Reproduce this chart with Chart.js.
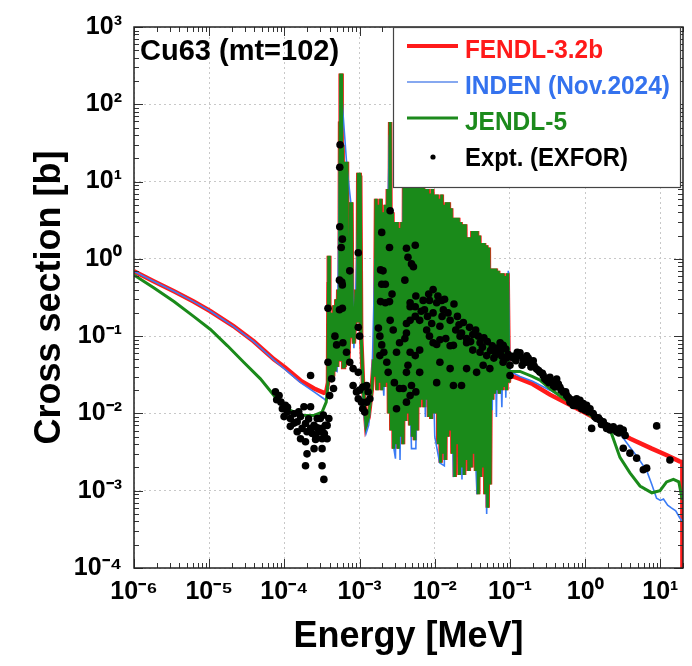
<!DOCTYPE html>
<html>
<head>
<meta charset="utf-8">
<title>Cu63 (mt=102)</title>
<script src="https://cdn.jsdelivr.net/npm/chart.js@4.4.1/dist/chart.umd.min.js"></script>
<style>
  html, body { margin: 0; padding: 0; background: #fff; }
  #wrap { width: 692px; height: 666px; }
</style>
</head>
<body>
<div id="wrap"><canvas id="xsChart" width="692" height="666"></canvas></div>
<script>
// ---- data: [energy MeV, cross section b] ----
const fendlLow = [
  [1e-6, 0.69], [1.85e-6, 0.51], [3.4e-6, 0.38], [6.2e-6, 0.28], [1.04e-5, 0.21],
  [2.1e-5, 0.135], [3.9e-5, 0.086], [7.3e-5, 0.05], [1.03e-4, 0.039], [1.64e-4, 0.0266],
  [2.48e-4, 0.021], [3.35e-4, 0.0185], [3.6e-4, 0.019]
];
const indenLow = [
  [1e-6, 0.69], [1.85e-6, 0.51], [3.4e-6, 0.38], [6.2e-6, 0.28], [1.04e-5, 0.21],
  [2.1e-5, 0.134], [3.9e-5, 0.085], [7.3e-5, 0.049], [1.03e-4, 0.037], [1.64e-4, 0.025],
  [2.48e-4, 0.019], [3.35e-4, 0.0155], [3.6e-4, 0.0145]
];
const jendlLow = [
  [1e-6, 0.62], [1.85e-6, 0.42], [3.4e-6, 0.28], [6.2e-6, 0.18], [1.04e-5, 0.122],
  [1.75e-5, 0.075], [2.9e-5, 0.0456], [4.8e-5, 0.028], [7.3e-5, 0.017], [1.09e-4, 0.0115],
  [1.64e-4, 0.0095], [2.48e-4, 0.0094], [3.17e-4, 0.0104], [3.6e-4, 0.014]
];

// resolved resonance region (FENDL and JENDL-5 coincide at this scale)
const resonances = [
  [3.8e-4, 0.025], [3.86e-4, 0.5], [3.88e-4, 1.1], [3.9e-4, 0.06], [3.92e-4, 1.1], [3.96e-4, 0.05],
  [4.1e-4, 0.03], [4.3e-4, 0.2], [4.45e-4, 0.03], [4.6e-4, 0.25], [4.75e-4, 0.035], [4.9e-4, 0.3],
  [5.05e-4, 0.04], [5.2e-4, 0.4], [5.35e-4, 0.05], [5.45e-4, 2], [5.5e-4, 60], [5.55e-4, 0.05],
  [5.6e-4, 250], [5.65e-4, 0.5], [5.7e-4, 250], [5.75e-4, 0.06], [5.8e-4, 40], [5.85e-4, 0.05],
  [5.95e-4, 30], [6.05e-4, 0.04], [6.2e-4, 18], [6.35e-4, 0.04], [6.5e-4, 18], [6.65e-4, 0.05],
  [6.8e-4, 18], [6.9e-4, 0.5], [7.1e-4, 0.05], [7.4e-4, 0.3], [7.6e-4, 5.4], [7.7e-4, 0.1],
  [7.8e-4, 5.4], [7.95e-4, 0.3], [8.4e-4, 0.08], [9.0e-4, 0.4], [9.4e-4, 0.15], [9.6e-4, 13],
  [9.75e-4, 0.2], [9.9e-4, 13], [1.005e-3, 0.15], [1.02e-3, 12], [1.05e-3, 0.1], [1.12e-3, 0.02],
  [1.22e-3, 0.007], [1.32e-3, 0.009], [1.45e-3, 0.02],
  // dense unresolved-looking band, 1.5 keV - 100 keV
  [1.540e-3, 0.05], [1.597e-3, 0.03], [1.656e-3, 6], [1.717e-3, 0.02], [1.778e-3, 5], [1.844e-3, 0.025],
  [1.911e-3, 6], [1.981e-3, 0.02], [2.054e-3, 4], [2.130e-3, 0.022], [2.207e-3, 5], [2.289e-3, 0.025],
  [2.371e-3, 8], [2.459e-3, 0.01], [2.548e-3, 59], [2.642e-3, 0.006], [2.738e-3, 4], [2.839e-3, 0.0035],
  [2.943e-3, 3], [3.051e-3, 0.004], [3.162e-3, 3], [3.278e-3, 0.0035], [3.398e-3, 2.5], [3.523e-3, 0.005],
  [3.652e-3, 3], [3.786e-3, 0.004], [3.924e-3, 40], [4.068e-3, 0.008], [4.217e-3, 30], [4.372e-3, 0.01],
  [4.532e-3, 50], [4.699e-3, 0.007], [4.870e-3, 30], [5.049e-3, 0.005], [5.233e-3, 40], [5.425e-3, 0.0045],
  [5.623e-3, 25], [5.830e-3, 0.006], [6.043e-3, 40], [6.265e-3, 0.012], [6.494e-3, 20], [6.733e-3, 0.015],
  [6.978e-3, 20], [7.235e-3, 0.012], [7.499e-3, 8], [7.775e-3, 0.015], [8.058e-3, 8], [8.354e-3, 0.009],
  [8.660e-3, 7], [8.978e-3, 0.0085], [9.306e-3, 8], [9.648e-3, 0.01],
  [1.000e-2, 6.8], [1.037e-2, 0.01], [1.075e-2, 6.8], [1.114e-2, 0.004], [1.155e-2, 6], [1.197e-2, 0.0023],
  [1.241e-2, 6.8], [1.287e-2, 0.003], [1.334e-2, 5], [1.383e-2, 0.0025], [1.433e-2, 5.4], [1.486e-2, 0.005],
  [1.540e-2, 5.4], [1.597e-2, 0.006], [1.656e-2, 4.5], [1.717e-2, 0.003], [1.778e-2, 3.4], [1.844e-2, 0.0015],
  [1.911e-2, 3.4], [1.981e-2, 0.004], [2.054e-2, 3.4], [2.130e-2, 0.0016], [2.207e-2, 3], [2.289e-2, 0.002],
  [2.371e-2, 2.8], [2.459e-2, 0.0016], [2.548e-2, 2.8], [2.642e-2, 0.0025], [2.738e-2, 1.9], [2.839e-2, 0.0018],
  [2.943e-2, 1.9], [3.051e-2, 0.002], [3.162e-2, 2.3], [3.278e-2, 0.003], [3.398e-2, 2.3], [3.523e-2, 0.0018],
  [3.652e-2, 2.3], [3.786e-2, 0.0009], [3.924e-2, 2], [4.068e-2, 0.0015], [4.217e-2, 1.6], [4.372e-2, 0.002],
  [4.532e-2, 1.6], [4.699e-2, 0.0009], [4.870e-2, 1.5], [5.049e-2, 0.0006], [5.233e-2, 1.4], [5.425e-2, 0.0012],
  [5.623e-2, 0.75], [5.830e-2, 0.015], [6.043e-2, 0.75], [6.265e-2, 0.018], [6.494e-2, 0.75], [6.733e-2, 0.02],
  [6.978e-2, 0.7], [7.235e-2, 0.018], [7.499e-2, 0.65], [7.775e-2, 0.02], [8.058e-2, 0.65], [8.354e-2, 0.022],
  [8.660e-2, 0.6], [8.978e-2, 0.02], [9.306e-2, 0.65], [9.648e-2, 0.025], [9.8e-2, 0.03]
];
// INDEN only shows where its valleys dip below the others
const indenRes = [
  [3.8e-4, 0.025], [3.88e-4, 1.0], [3.96e-4, 0.04], [5.0e-4, 0.035], [5.6e-4, 200], [6.8e-4, 15],
  [7.7e-4, 5], [8.4e-4, 0.07], [9.9e-4, 10], [1.05e-3, 0.1], [1.12e-3, 0.012], [1.22e-3, 0.0055],
  [1.32e-3, 0.007], [1.45e-3, 0.02], [1.6e-3, 1], [2.1e-3, 0.017], [2.5e-3, 40], [2.8e-3, 0.004],
  [3.0e-3, 0.0026], [3.2e-3, 2], [3.45e-3, 0.0025], [3.9e-3, 20], [4.9e-3, 0.0035], [5.6e-3, 0.0035],
  [6.5e-3, 20], [7.5e-3, 0.009], [8.5e-3, 5], [1.0e-2, 0.005], [1.16e-2, 0.0023], [1.34e-2, 0.0021],
  [1.45e-2, 3], [1.78e-2, 0.0015], [2.0e-2, 2], [2.3e-2, 0.0014], [2.6e-2, 2], [3.65e-2, 0.0009],
  [4.2e-2, 1.5], [4.9e-2, 0.0005], [5.3e-2, 1], [5.8e-2, 0.011], [6.2e-2, 0.5], [6.6e-2, 0.009],
  [7.0e-2, 0.5], [7.8e-2, 0.012], [8.4e-2, 0.6], [8.8e-2, 0.016], [9.5e-2, 0.7], [9.9e-2, 0.04]
];

const fendlHigh = [
  [0.1, 0.031], [0.136, 0.028], [0.2, 0.024], [0.34, 0.0175], [0.5, 0.0145], [1.0, 0.0102],
  [1.5, 0.0082], [2.6, 0.0059], [4.0, 0.0047], [7.7, 0.0035], [12, 0.0029], [18, 0.0024],
  [19.6, 0.00235], [19.7, 1e-5]
];
const indenHigh = [
  [0.1, 0.035], [0.136, 0.03], [0.2, 0.026], [0.34, 0.02], [0.5, 0.016], [1.0, 0.0105],
  [1.5, 0.0082], [2.2, 0.0065], [2.9, 0.0055], [3.9, 0.0037], [5.0, 0.0027], [6.6, 0.0018],
  [7.7, 0.0012], [8.9, 0.0008], [10, 0.00075], [11, 0.00078], [12.5, 0.00065], [14, 0.0006],
  [16, 0.00055], [18, 0.00045], [19.6, 0.0004]
];
const jendlHigh = [
  [0.1, 0.035], [0.136, 0.035], [0.2, 0.03], [0.25, 0.027], [0.34, 0.021], [0.5, 0.016],
  [1.0, 0.0105], [1.5, 0.008], [2.14, 0.0062], [2.37, 0.0047], [2.9, 0.0027], [3.94, 0.0017],
  [5.36, 0.00115], [7.7, 0.00094], [9.9, 0.001], [12.1, 0.0013], [14.9, 0.0014], [17.6, 0.0013],
  [19.6, 0.00076]
];

const exfor = [
  // below the first resonance
  [7.6e-5, 0.019], [7.9e-5, 0.015], [8.5e-5, 0.017], [9.0e-5, 0.014], [9.4e-5, 0.0115], [9.9e-5, 0.0091],
  [1.03e-4, 0.0127], [1.09e-4, 0.0104], [1.1e-4, 0.012], [1.2e-4, 0.0086], [1.2e-4, 0.0068], [1.34e-4, 0.0099],
  [1.35e-4, 0.0075], [1.48e-4, 0.0078], [1.48e-4, 0.0058], [1.55e-4, 0.0105], [1.64e-4, 0.0091], [1.64e-4, 0.0047],
  [1.72e-4, 0.0064], [1.82e-4, 0.0122], [1.91e-4, 0.0074], [1.91e-4, 0.0043], [1.91e-4, 0.0021], [2.0e-4, 0.0058],
  [2.0e-4, 0.003], [2.1e-4, 0.0085], [2.23e-4, 0.0064], [2.23e-4, 0.0122], [2.23e-4, 0.031], [2.35e-4, 0.0055],
  [2.48e-4, 0.007], [2.48e-4, 0.0035], [2.6e-4, 0.0052], [2.6e-4, 0.0046], [2.73e-4, 0.0086], [2.75e-4, 0.0065],
  [2.88e-4, 0.0058], [3.0e-4, 0.0086], [3.17e-4, 0.0064], [3.17e-4, 0.0047], [3.17e-4, 0.0035], [3.17e-4, 0.0021],
  [3.3e-4, 0.0095], [3.35e-4, 0.0014], [3.4e-4, 0.0055], [3.5e-4, 0.007], [3.7e-4, 0.0047], [3.7e-4, 0.007],
  [3.9e-4, 0.0086],
  // resonance region
  [5.5e-4, 30], [5.45e-4, 15.3], [5.45e-4, 2.6], [5.9e-4, 1.8], [5.7e-4, 1.4], [9.6e-4, 1.2], [7.4e-4, 0.7],
  [5.4e-4, 0.53], [5.8e-4, 0.5], [5.9e-4, 0.46], [3.8e-4, 0.23], [5.4e-4, 0.22], [5.9e-4, 0.23],
  [1.97e-3, 2.2], [2.55e-3, 4.2], [2.5e-3, 1.4], [1.9e-3, 0.72], [2.05e-3, 0.7], [1.97e-3, 0.47], [2.2e-3, 0.47],
  [1.9e-3, 0.28], [2.2e-3, 0.27], [2.5e-3, 0.28], [2.7e-3, 0.35], [4.2e-3, 1.37], [5.5e-3, 1.5], [4.4e-3, 1.05],
  [4.9e-3, 0.86], [5.2e-3, 0.79], [4.0e-3, 0.53], [4.7e-3, 0.27], [5.5e-3, 0.18],
  [4.7e-4, 0.1], [4.95e-4, 0.077], [3.8e-4, 0.046], [4.25e-4, 0.028], [4.5e-4, 0.021], [4.0e-4, 0.017],
  [6.0e-4, 0.082], [6.7e-4, 0.062], [7.4e-4, 0.046], [8.2e-4, 0.038], [9.6e-4, 0.034], [9.6e-4, 0.13],
  [1.0e-3, 0.1], [8.2e-4, 0.023], [9.1e-4, 0.019], [1.0e-3, 0.02], [1.1e-3, 0.022], [1.24e-3, 0.023],
  [1.3e-3, 0.019], [1.37e-3, 0.0155], [1.24e-3, 0.014], [1.1e-3, 0.0115], [1.06e-3, 0.014], [1.17e-3, 0.0104],
  [9.6e-4, 0.0155], [1.78e-3, 0.127], [1.86e-3, 0.1], [1.97e-3, 0.077], [1.86e-3, 0.056], [2.1e-3, 0.062],
  [2.3e-3, 0.046], [2.55e-3, 0.16], [2.8e-3, 0.12], [3.4e-3, 0.082], [3.1e-3, 0.062], [4.2e-3, 0.146],
  [4.7e-3, 0.24], [5.5e-3, 0.056], [4.4e-3, 0.042], [4.9e-3, 0.023], [2.4e-3, 0.034], [2.9e-3, 0.025],
  [3.4e-3, 0.021], [4.2e-3, 0.014], [3.1e-3, 0.0115], [4.7e-3, 0.017],
  // broad bump up to 100 keV
  [9.5e-3, 0.40], [8.3e-3, 0.35], [7.0e-3, 0.29], [5.6e-3, 0.33], [5.5e-3, 0.24], [8.5e-3, 0.29],
  [1.06e-2, 0.27], [1.24e-2, 0.29], [7.3e-3, 0.22], [9.5e-3, 0.2], [1.3e-2, 0.22], [6.3e-3, 0.16],
  [9.1e-3, 0.146], [1.17e-2, 0.134], [1.6e-2, 0.16], [1.9e-2, 0.12], [1.4e-2, 0.093], [2.27e-2, 0.11],
  [2.65e-2, 0.093], [3.2e-2, 0.105], [4.0e-2, 0.082], [1.77e-2, 0.076], [1.06e-2, 0.078], [4.2e-3, 0.11],
  [4.7e-3, 0.16], [4.0e-3, 0.093], [7.4e-2, 0.082], [8.1e-2, 0.076], [6.1e-2, 0.066], [8.5e-3, 0.1],
  [9.5e-3, 0.082], [1.17e-2, 0.09], [1.6e-2, 0.075], [2.17e-2, 0.1], [2.65e-2, 0.082], [3.2e-2, 0.066],
  [4.0e-2, 0.062], [4.9e-2, 0.056], [6.1e-2, 0.052], [7.4e-2, 0.062], [8.1e-2, 0.046], [0.1, 0.042],
  [0.11, 0.052], [0.135, 0.056], [0.165, 0.046], [4.7e-3, 0.062], [6.3e-3, 0.066], [4.2e-3, 0.034],
  [3.8e-3, 0.021], [5.6e-3, 0.019], [6.3e-3, 0.034], [1.06e-2, 0.025], [1.17e-2, 0.046], [1.6e-2, 0.038],
  [1.77e-2, 0.023], [2.27e-2, 0.023], [2.65e-2, 0.038], [3.6e-2, 0.034], [4.4e-2, 0.042], [5.4e-2, 0.038],
  [8.1e-2, 0.075], [0.1, 0.031], [1.5e-2, 0.2], [2.0e-2, 0.18], [1.8e-2, 0.26], [2.4e-2, 0.15],
  [2.9e-2, 0.13], [3.5e-2, 0.12], [4.5e-2, 0.095], [5.0e-2, 0.085], [5.8e-2, 0.075], [6.8e-2, 0.07],
  [8.8e-2, 0.068], [9.5e-2, 0.058], [1.1e-2, 0.33], [1.35e-2, 0.3], [8e-3, 0.18], [7.8e-3, 0.12],
  [6.6e-3, 0.21], [1.25e-2, 0.18], [2.1e-2, 0.14], [3.0e-2, 0.085], [3.8e-2, 0.1], [4.3e-2, 0.072],
  [5.5e-2, 0.065], [6.5e-2, 0.058], [7.8e-2, 0.055], [9.0e-2, 0.052],
  // fast region
  [0.136, 0.061], [0.150, 0.050], [0.167, 0.0555], [0.185, 0.0456], [0.204, 0.048], [0.226, 0.0375],
  [0.251, 0.034], [0.277, 0.0308], [0.307, 0.0266], [0.340, 0.0293], [0.377, 0.023], [0.418, 0.0279],
  [0.462, 0.0218], [0.512, 0.0188], [0.567, 0.0171], [0.628, 0.014], [0.695, 0.0127], [0.770, 0.0155],
  [0.853, 0.0148], [0.944, 0.0134], [1.046, 0.0127], [1.16, 0.0115], [1.28, 0.00995], [1.42, 0.0086],
  [1.57, 0.0082], [1.74, 0.0078], [1.93, 0.0064], [2.14, 0.0061], [2.37, 0.0067], [2.62, 0.0058],
  [2.90, 0.0064], [3.21, 0.0061], [1.22, 0.0064], [3.21, 0.00355], [3.94, 0.00306], [4.84, 0.00264],
  [5.93, 0.00187], [6.57, 0.00196], [8.93, 0.0069], [13.4, 0.0025],
  [0.11, 0.055], [0.12, 0.048], [0.125, 0.062], [0.145, 0.042], [0.16, 0.05], [0.175, 0.052],
  [0.19, 0.04], [0.21, 0.041], [0.24, 0.036], [0.27, 0.033], [0.29, 0.028], [0.33, 0.025],
  [0.36, 0.026], [0.4, 0.022], [0.44, 0.024], [0.48, 0.02], [0.55, 0.019], [0.6, 0.016],
  [0.66, 0.015], [0.73, 0.013], [0.8, 0.0125], [0.9, 0.0115], [1.0, 0.011], [1.1, 0.0105],
  [1.35, 0.009], [1.5, 0.0088], [1.65, 0.0072], [1.85, 0.007], [2.0, 0.0068], [2.5, 0.0062],
  [2.8, 0.0056], [3.4, 0.0052]
];

// axis decades
const xDecades = [1e-6, 1e-5, 1e-4, 1e-3, 1e-2, 1e-1, 1, 10];
const yDecades = [1e-4, 1e-3, 1e-2, 1e-1, 1, 10, 100, 1000];

const FONT = '"Liberation Sans", Arial, Helvetica, sans-serif';
Chart.defaults.font.family = FONT;
Chart.defaults.color = '#000';

const toXY = arr => arr.map(p => ({x: p[0], y: p[1]}));
const isDecade = v => Math.abs(Math.log10(v) - Math.round(Math.log10(v))) < 1e-6;
const sup = {'-': '\u207B', '0': '\u2070', '1': '\u00B9', '2': '\u00B2', '3': '\u00B3',
             '4': '\u2074', '5': '\u2075', '6': '\u2076', '7': '\u2077', '8': '\u2078', '9': '\u2079'};
const powLabel = v => '10' + String(Math.round(Math.log10(v))).split('').map(c => sup[c]).join('');

// decades plus 2..9 minor marks
function withMinors(decades, max) {
  const out = [];
  decades.forEach(d => {
    for (let m = 1; m <= 9; m++) {
      const v = d * m;
      if (v <= max * 1.0001) out.push(v);
    }
  });
  return out;
}

const legendStyle = [
  {text: '#ff1a1a', line: '#ff1a1a', width: 4},
  {text: '#3472ee', line: '#86a8f0', width: 2},
  {text: '#1c8a1c', line: '#1c8a1c', width: 3},
  {text: '#000000', dot: true}
];
const legendTextWidth = [138, 205, 102, 163];

const overlay = {
  id: 'overlay',
  afterDraw(chart) {
    const ctx = chart.ctx;
    const {left, top, right, bottom} = chart.chartArea;
    const xs = chart.scales.x, ys = chart.scales.y;
    ctx.save();

    // inward tick marks on all four sides
    ctx.strokeStyle = '#333';
    ctx.lineWidth = 1;
    ctx.beginPath();
    xs.ticks.forEach(t => {
      const px = Math.round(xs.getPixelForValue(t.value)) + 0.5;
      const len = isDecade(t.value) ? 9 : 5;
      ctx.moveTo(px, bottom); ctx.lineTo(px, bottom - len);
      ctx.moveTo(px, top); ctx.lineTo(px, top + len);
    });
    ys.ticks.forEach(t => {
      const py = Math.round(ys.getPixelForValue(t.value)) + 0.5;
      const len = isDecade(t.value) ? 9 : 5;
      ctx.moveTo(left, py); ctx.lineTo(left + len, py);
      ctx.moveTo(right, py); ctx.lineTo(right - len, py);
    });
    ctx.stroke();

    // frame
    ctx.lineWidth = 1.5;
    ctx.strokeStyle = '#222';
    ctx.strokeRect(left, top, right - left, bottom - top);

    // nuclide label
    ctx.fillStyle = '#000';
    ctx.font = 'bold 29px ' + FONT;
    ctx.textAlign = 'left';
    ctx.textBaseline = 'alphabetic';
    ctx.fillText('Cu63 (mt=102)', 140, 60, 210);

    // legend box
    const bx = 393, by = top, bw = 287, bh = 160;
    ctx.fillStyle = '#fff';
    ctx.fillRect(bx, by, bw, bh);
    ctx.lineWidth = 1.2;
    ctx.strokeStyle = '#444';
    ctx.strokeRect(bx + 0.5, by + 0.5, bw, bh);

    ctx.font = 'bold 25px ' + FONT;
    ctx.textBaseline = 'middle';
    chart.data.datasets.forEach((ds, i) => {
      const st = legendStyle[i];
      const rowY = 51 + i * 36;
      if (st.dot) {
        ctx.fillStyle = '#000';
        ctx.beginPath();
        ctx.arc(433, rowY - 2, 2.6, 0, Math.PI * 2);
        ctx.fill();
      } else {
        ctx.strokeStyle = st.line;
        ctx.lineWidth = st.width;
        ctx.beginPath();
        ctx.moveTo(407, rowY - 5);
        ctx.lineTo(458, rowY - 5);
        ctx.stroke();
      }
      ctx.fillStyle = st.text;
      ctx.fillText(ds.label, 465, rowY, legendTextWidth[i]);
    });
    ctx.restore();
  }
};

const ctx = document.getElementById('xsChart').getContext('2d');
window.xsChart = new Chart(ctx, {
  type: 'scatter',
  data: {
    datasets: [
      {
        label: 'FENDL-3.2b',
        data: toXY(fendlLow.concat(resonances, fendlHigh)),
        showLine: true, pointRadius: 0, borderColor: '#ff1a1a', borderWidth: 4.5,
        order: 4, clip: 0
      },
      {
        label: 'INDEN (Nov.2024)',
        data: toXY(indenLow.concat(indenRes, indenHigh)),
        showLine: true, pointRadius: 0, borderColor: '#3b7cf5', borderWidth: 1.6,
        order: 3, clip: 0
      },
      {
        label: 'JENDL-5',
        data: toXY(jendlLow.concat(resonances, jendlHigh)),
        showLine: true, pointRadius: 0, borderColor: '#1a8a1a', borderWidth: 3,
        order: 2, clip: 0
      },
      {
        label: 'Expt. (EXFOR)',
        data: toXY(exfor),
        showLine: false, pointRadius: 3.8, pointBackgroundColor: '#000',
        pointBorderWidth: 0, borderColor: '#000', order: 1, clip: 0
      }
    ]
  },
  options: {
    responsive: false,
    animation: false,
    events: [],
    layout: { padding: { left: 0, right: 9, top: 21, bottom: 0 } },
    plugins: { legend: { display: false }, tooltip: { enabled: false } },
    scales: {
      x: {
        type: 'logarithmic',
        min: 1e-6,
        max: 20,
        afterBuildTicks: s => { s.ticks = withMinors(xDecades, 20).map(v => ({value: v})); },
        afterFit: s => { s.height = 98; },
        ticks: {
          autoSkip: false, maxRotation: 0, padding: 9,
          font: { size: 25, weight: 'bold' }, color: '#000',
          callback: v => isDecade(v) ? powLabel(v) : ''
        },
        grid: {
          drawTicks: false,
          color: c => (c.tick && isDecade(c.tick.value)) ? '#c8c8c8' : 'rgba(0,0,0,0)'
        },
        border: { display: false, dash: [2, 3] },
        title: {
          display: true, text: 'Energy [MeV]', color: '#000',
          font: { size: 36, weight: 'bold' }, padding: { top: 0, bottom: 7 }
        }
      },
      y: {
        type: 'logarithmic',
        min: 1e-4,
        max: 1e3,
        afterBuildTicks: s => { s.ticks = withMinors(yDecades, 1e3).map(v => ({value: v})); },
        afterFit: s => { s.width = 134; },
        ticks: {
          autoSkip: false, padding: 12,
          font: { size: 25, weight: 'bold' }, color: '#000',
          callback: v => isDecade(v) ? powLabel(v) : ''
        },
        grid: {
          drawTicks: false,
          color: c => (c.tick && isDecade(c.tick.value)) ? '#c8c8c8' : 'rgba(0,0,0,0)'
        },
        border: { display: false, dash: [2, 3] },
        title: {
          display: true, text: 'Cross section [b]', color: '#000',
          font: { size: 36, weight: 'bold' }, padding: { top: 28, bottom: 0 }
        }
      }
    }
  },
  plugins: [overlay]
});
</script>
</body>
</html>
